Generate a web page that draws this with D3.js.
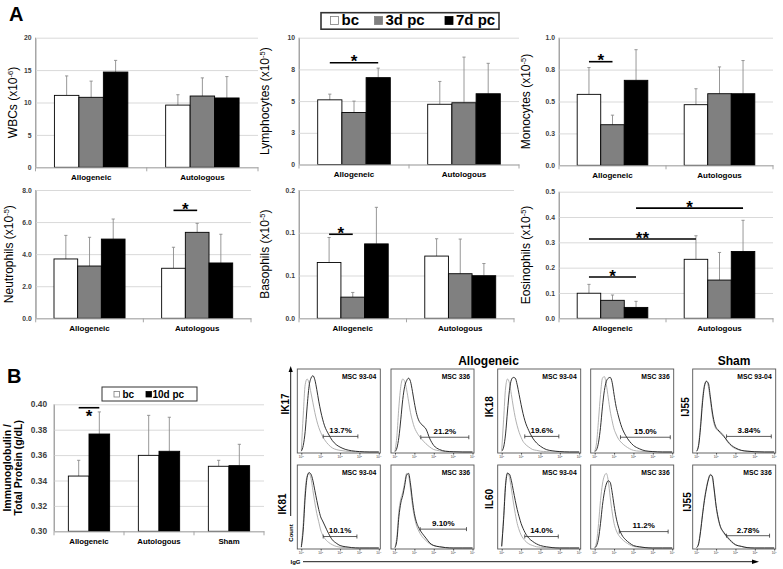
<!DOCTYPE html>
<html><head><meta charset="utf-8">
<script src="https://cdn.jsdelivr.net/npm/d3@7"></script>
<style>body{margin:0;background:#fff}svg{display:block;font-family:"Liberation Sans",Arial,sans-serif}</style>
</head><body><svg id="c" width="783" height="569"></svg>
<script>
// ---------------- DATA : panel A ----------------
const groupsA = ["Allogeneic", "Autologous"];
const seriesA = ["bc", "3d pc", "7d pc"];
const colorsA = ["#ffffff", "#808080", "#000000"];

const wbcMean = [[11.1, 10.8, 14.7], [9.6, 11.0, 10.7]];
const wbcSD = [[3.0, 2.5, 1.8], [1.6, 2.8, 3.3]];
const wbcTicks = [0, 5, 10, 15, 20];
const wbcTickLabels = ["0", "5", "10", "15", "20"];

const lymMean = [[5.1, 4.1, 6.85], [4.75, 4.87, 5.58]];
const lymSD = [[0.45, 0.9, 0.75], [1.8, 3.6, 2.4]];
const lymTicks = [0, 2.5, 5, 7.5, 10];
const lymTickLabels = ["0", "3", "5", "8", "10"];

const monoMean = [[0.556, 0.318, 0.666], [0.475, 0.561, 0.561]];
const monoSD = [[0.21, 0.075, 0.24], [0.125, 0.21, 0.26]];
const monoTicks = [0, 0.25, 0.5, 0.75, 1.0];
const monoTickLabels = ["0.0", "0.3", "0.5", "0.8", "1.0"];

const neuMean = [[3.70, 3.26, 4.94], [3.12, 5.36, 3.45]];
const neuSD = [[1.47, 1.79, 1.25], [1.31, 0.56, 1.79]];
const neuTicks = [0, 2, 4, 6, 8];
const neuTickLabels = ["0.0", "2.0", "4.0", "6.0", "8.0"];

const basMean = [[0.087, 0.033, 0.116], [0.097, 0.0695, 0.0664]];
const basSD = [[0.039, 0.0073, 0.057], [0.027, 0.054, 0.019]];
const basTicks = [0, 0.0667, 0.1333, 0.2];
const basTickLabels = ["0.0", "0.1", "0.1", "0.2"];

const eosMean = [[0.099, 0.071, 0.043], [0.233, 0.151, 0.264]];
const eosSD = [[0.035, 0.021, 0.024], [0.093, 0.109, 0.123]];
const eosTicks = [0, 0.1, 0.2, 0.3, 0.4, 0.5];
const eosTickLabels = ["0.0", "0.1", "0.2", "0.3", "0.4", "0.5"];

// significance brackets: [fromGroup, fromSeries, toGroup, toSeries, level, label]
const lymSig = [[0, 0, 0, 2, 8.03, "*"]];
const monoSig = [[0, 0, 0, 1, 0.812, "*"]];
const neuSig = [[1, 0, 1, 1, 6.73, "*"]];
const basSig = [[0, 0, 0, 1, 0.131, "*"]];
const eosSig = [[0, 0, 0, 2, 0.163, "*"], [0, 0, 1, 0, 0.313, "**"], [0, 2, 1, 2, 0.435, "*"]];

// ---------------- DATA : panel B ----------------
const groupsB = ["Allogeneic", "Autologous", "Sham"];
const seriesB = ["bc", "10d pc"];
const colorsB = ["#ffffff", "#000000"];
const igMean = [[0.3435, 0.3766], [0.3598, 0.3630], [0.3512, 0.3517]];
const igSD = [[0.0124, 0.0174], [0.0315, 0.0268], [0.0047, 0.0168]];
const igTicks = [0.30, 0.32, 0.34, 0.36, 0.38, 0.40];
const igTickLabels = ["0.30", "0.32", "0.34", "0.36", "0.38", "0.40"];
const igSig = [[0, 0, 0, 1, 0.3973, "*"]];

// ---------------- DATA : flow histograms ----------------
const flowLogPts = [0, 0.1, 0.2, 0.3, 0.4, 0.5, 0.6, 0.7, 0.8, 0.9, 1.0, 1.1, 1.2, 1.4, 1.6, 1.8, 2.0, 2.3, 2.6, 3.0, 3.5, 4.0];
const flowDecadeLabels = ["0", "1", "2", "3", "4"];
const flowRowLabels = [["IK17", "IK18", "IJ55"], ["IK81", "IL60", "IJ55"]];
const flowSamples = [["MSC 93-04", "MSC 336", "MSC 93-04", "MSC 336", "MSC 93-04"],
                     ["MSC 93-04", "MSC 336", "MSC 93-04", "MSC 336", "MSC 336"]];
const flowPercents = [["13.7%", "21.2%", "19.6%", "15.0%", "3.84%"],
                      ["10.1%", "9.10%", "14.0%", "11.2%", "2.78%"]];
const flowGateLog = [[[1.13, 2.92], [1.33, 3.81], [1.19, 2.95], [1.33, 3.9], [1.54, 3.85]],
                     [[1.13, 2.87], [1.30, 3.69], [1.19, 2.92], [1.27, 3.79], [1.54, 3.76]]];
const flowGateLevel = [[19, 18, 19, 18, 19], [14, 23, 14, 20, 15]];
const flowGray = [
  [[2, 45, 82, 89, 84, 72, 60, 48, 38, 30, 24, 19, 15, 9, 5, 3, 2, 1, 0.5, 0, 0, 0],
   [1, 20, 55, 80, 89, 86, 76, 62, 48, 38, 30, 25, 21, 15, 10, 6, 3, 1.5, 0.5, 0, 0, 0],
   [2, 40, 78, 89, 84, 70, 55, 42, 32, 24, 18, 13, 10, 6, 3, 2, 1, 0.5, 0, 0, 0, 0],
   [1, 12, 40, 70, 90, 92, 82, 66, 50, 38, 28, 22, 17, 11, 7, 4, 2, 1, 0.5, 0, 0, 0],
   [1, 10, 35, 65, 82, 87, 80, 64, 46, 34, 28, 26, 25, 20, 12, 7, 4, 2, 1, 0.3, 0, 0]],
  [[2, 30, 70, 88, 91, 85, 70, 55, 42, 32, 22, 16, 12, 7, 4, 2, 1, 0.5, 0, 0, 0, 0],
   [0.5, 15, 45, 60, 68, 80, 91, 88, 72, 52, 38, 28, 22, 14, 9, 5, 3, 1.5, 0.5, 0, 0, 0],
   [2, 40, 80, 92, 86, 72, 56, 42, 30, 22, 16, 12, 9, 5, 3, 1.5, 1, 0.3, 0, 0, 0, 0],
   [0.5, 8, 30, 58, 78, 88, 91, 82, 62, 44, 30, 22, 17, 11, 7, 4, 2, 1, 0.3, 0, 0, 0],
   [0.5, 6, 22, 42, 60, 74, 84, 90, 86, 70, 50, 36, 27, 18, 12, 7, 4, 2, 0.5, 0, 0, 0]]
];
const flowBlack = [
  [[1, 8, 25, 55, 80, 90, 93, 88, 76, 62, 50, 40, 32, 22, 14, 9, 6, 3, 1.5, 0.5, 0, 0],
   [0.5, 5, 18, 40, 64, 80, 87, 90, 86, 74, 60, 48, 40, 33, 28, 16, 8, 3, 1, 0.3, 0, 0],
   [1, 6, 22, 50, 75, 88, 91, 90, 82, 70, 58, 47, 38, 26, 17, 11, 7, 3, 1.5, 0.5, 0, 0],
   [0.5, 3, 12, 30, 55, 75, 86, 90, 91, 85, 70, 56, 46, 30, 20, 13, 8, 4, 1.5, 0.5, 0, 0],
   [1, 8, 30, 60, 80, 86, 84, 68, 50, 37, 30, 27, 24, 19, 13, 8, 5, 2, 1, 0.3, 0, 0]],
  [[1, 22, 62, 86, 92, 90, 82, 70, 58, 47, 38, 33, 28, 18, 10, 6, 3, 1.5, 0.5, 0, 0, 0],
   [0.5, 10, 38, 55, 64, 76, 89, 91, 78, 58, 42, 32, 26, 18, 12, 6, 3, 1.5, 0.5, 0, 0, 0],
   [2, 35, 76, 91, 90, 82, 70, 58, 47, 38, 30, 24, 19, 12, 8, 5, 3, 1.5, 0.5, 0, 0, 0],
   [0.3, 3, 12, 30, 52, 68, 78, 82, 80, 68, 52, 38, 28, 16, 10, 6, 3, 1.5, 0.5, 0, 0, 0],
   [0.5, 5, 20, 40, 58, 72, 83, 89, 88, 72, 52, 38, 28, 19, 13, 8, 4, 2, 0.5, 0, 0, 0]]
];

// ---------------- DRAWING ----------------
const svg = d3.select("#c");
const FONT = '"Liberation Sans", Arial, sans-serif';

function barChart(cfg) {
  const g = svg.append("g");
  const x = d3.scaleBand().domain(cfg.groups).range([cfg.x0, cfg.x1]).padding(0);
  const bw = x.bandwidth();
  const xs = d3.scaleBand().domain(cfg.series).range([bw * cfg.off, bw * (cfg.off + cfg.frac)]).padding(0);
  const y = d3.scaleLinear().domain([cfg.min, cfg.max]).range([cfg.yBot, cfg.yTop]);

  const ax = g.append("g").attr("transform", `translate(${cfg.x0},0)`)
    .call(d3.axisLeft(y).tickValues(cfg.ticks).tickFormat((d, i) => cfg.tickLabels[i])
      .tickSizeInner(-(cfg.x1 - cfg.x0)).tickSizeOuter(0).tickPadding(cfg.tickPad));
  ax.select(".domain").attr("stroke", "#a6a6a6");
  ax.selectAll(".tick line").attr("stroke", "#d9d9d9");
  ax.selectAll(".tick text").attr("fill", "#404040").attr("font-weight", "bold")
    .attr("font-size", cfg.tickFont).attr("font-family", FONT);
  g.append("line").attr("x1", cfg.x0).attr("x2", cfg.x0).attr("y1", cfg.yTop).attr("y2", cfg.yBot)
    .attr("stroke", "#a6a6a6");

  cfg.groups.forEach((gr, gi) => {
    cfg.series.forEach((s, si) => {
      const v = cfg.mean[gi][si], sd = cfg.sd[gi][si];
      const bx = x(gr) + xs(s), bwid = xs.bandwidth();
      const cx = bx + bwid / 2;
      g.append("line").attr("x1", cx).attr("x2", cx).attr("y1", y(v)).attr("y2", y(v + sd))
        .attr("stroke", "#8c8c8c").attr("stroke-width", 0.9);
      g.append("line").attr("x1", cx - 1.6).attr("x2", cx + 1.6).attr("y1", y(v + sd)).attr("y2", y(v + sd))
        .attr("stroke", "#8c8c8c").attr("stroke-width", 0.9);
      g.append("rect").attr("x", bx).attr("y", y(v)).attr("width", bwid).attr("height", y(cfg.min) - y(v))
        .attr("fill", cfg.colors[si]).attr("stroke", "#000").attr("stroke-width", 0.9);
    });
  });

  const bx = g.append("g").attr("transform", `translate(0,${cfg.yBot})`)
    .call(d3.axisBottom(x).tickSize(0).tickPadding(cfg.catPad));
  bx.select(".domain").attr("stroke", "#a6a6a6");
  bx.selectAll(".tick text").attr("font-weight", "bold").attr("font-size", cfg.catFont)
    .attr("fill", "#000").attr("font-family", FONT);
  cfg.groups.forEach((gr) => {
    const xx = x(gr) + bw;
    g.append("line").attr("x1", xx).attr("x2", xx).attr("y1", cfg.yBot).attr("y2", cfg.yBot + 4)
      .attr("stroke", "#a6a6a6");
  });
  g.append("line").attr("x1", cfg.x0).attr("x2", cfg.x0).attr("y1", cfg.yBot).attr("y2", cfg.yBot + 4)
    .attr("stroke", "#a6a6a6");

  (cfg.sig || []).forEach(sg => {
    const xa = x(cfg.groups[sg[0]]) + xs(cfg.series[sg[1]]) + xs.bandwidth() / 2;
    const xb = x(cfg.groups[sg[2]]) + xs(cfg.series[sg[3]]) + xs.bandwidth() / 2;
    const yy = y(sg[4]);
    g.append("line").attr("x1", xa).attr("x2", xb).attr("y1", yy).attr("y2", yy)
      .attr("stroke", "#000").attr("stroke-width", 1.6);
    g.append("text").attr("x", (xa + xb) / 2).attr("y", cfg.starBelow ? yy + 14 : yy + 4.5)
      .attr("text-anchor", "middle").attr("font-size", 17).attr("font-weight", "bold")
      .attr("font-family", FONT).text(sg[5]);
  });

  const t = g.append("text").attr("transform", `translate(${cfg.titleX},${(cfg.yTop + cfg.yBot) / 2}) rotate(-90)`)
    .attr("text-anchor", "middle").attr("font-size", cfg.titleFont).attr("font-family", FONT)
    .attr("font-weight", cfg.titleBold ? "bold" : "normal");
  cfg.title(t);
}

function sciTitle(name, exp) {
  return t => {
    t.append("tspan").text(name + " (x10");
    t.append("tspan").attr("font-size", 7.5).attr("dy", -4).text(exp);
    t.append("tspan").attr("dy", 4).text(")");
  };
}

const common = { groups: groupsA, series: seriesA, colors: colorsA, min: 0, off: 0.17, frac: 0.66,
  tickFont: 6.8, tickPad: 4, catFont: 8, catPad: 7, titleFont: 12 };

barChart({ ...common, x0: 35.5, x1: 258, yTop: 37.7, yBot: 167.3, max: 20, ticks: wbcTicks, tickLabels: wbcTickLabels,
  mean: wbcMean, sd: wbcSD, titleX: 16.5, title: sciTitle("WBCs", "-6") });
barChart({ ...common, x0: 299, x1: 519, yTop: 37.7, yBot: 164.5, max: 10, ticks: lymTicks, tickLabels: lymTickLabels,
  mean: lymMean, sd: lymSD, sig: lymSig, titleX: 269, title: sciTitle("Lymphocytes", "-5") });
barChart({ ...common, x0: 559, x1: 773, yTop: 37.7, yBot: 165.3, max: 1.0, ticks: monoTicks, tickLabels: monoTickLabels,
  mean: monoMean, sd: monoSD, sig: monoSig, titleX: 530, title: sciTitle("Monocytes", "-5") });
barChart({ ...common, x0: 35.7, x1: 251, yTop: 190, yBot: 318.3, max: 8, ticks: neuTicks, tickLabels: neuTickLabels,
  mean: neuMean, sd: neuSD, sig: neuSig, titleX: 12.5, title: sciTitle("Neutrophils", "-5") });
barChart({ ...common, x0: 299, x1: 514, yTop: 190, yBot: 318.3, max: 0.2, ticks: basTicks, tickLabels: basTickLabels,
  mean: basMean, sd: basSD, sig: basSig, titleX: 269, title: sciTitle("Basophils", "-5") });
barChart({ ...common, x0: 559, x1: 773, yTop: 191.7, yBot: 318.3, max: 0.5, ticks: eosTicks, tickLabels: eosTickLabels,
  mean: eosMean, sd: eosSD, sig: eosSig, titleX: 530, title: sciTitle("Eosinophils", "-5") });

barChart({ groups: groupsB, series: seriesB, colors: colorsB, min: 0.30, max: 0.40, off: 0.205, frac: 0.59,
  x0: 54, x1: 264, yTop: 404.3, yBot: 531.3, ticks: igTicks, tickLabels: igTickLabels, tickFont: 8.3, tickPad: 7,
  catFont: 7.8, catPad: 7, mean: igMean, sd: igSD, sig: igSig, starBelow: true, titleX: 11, titleFont: 10.5, titleBold: true,
  title: t => {
    t.append("tspan").attr("x", 0).attr("dy", 0).text("Immunoglobulin /");
    t.append("tspan").attr("x", 0).attr("dy", 11).text("Total Protein (g/dL)");
  } });

svg.append("text").attr("x", 9).attr("y", 20.5).attr("font-size", 20).attr("font-weight", "bold")
  .attr("font-family", FONT).text("A");
svg.append("text").attr("x", 7).attr("y", 383).attr("font-size", 20).attr("font-weight", "bold")
  .attr("font-family", FONT).text("B");

function legend(x, y, w, h, items, sq, fs, base, stroke) {
  const g = svg.append("g");
  g.append("rect").attr("x", x).attr("y", y).attr("width", w).attr("height", h)
    .attr("fill", "#fff").attr("stroke", "#333").attr("stroke-width", stroke);
  items.forEach(it => {
    g.append("rect").attr("x", it.sx).attr("y", base - sq - 0.5).attr("width", sq).attr("height", sq)
      .attr("fill", it.color).attr("stroke", it.color === "#ffffff" ? "#7f7f7f" : it.color).attr("stroke-width", 0.8);
    g.append("text").attr("x", it.tx).attr("y", base).attr("font-size", fs).attr("font-weight", "bold")
      .attr("font-family", FONT).text(it.label);
  });
}
legend(321, 12.7, 178, 16.5, seriesA.map((s, i) => ({ label: s, color: colorsA[i], sx: [330.5, 374.5, 445][i], tx: [341.5, 385.5, 456][i] })),
  8, 15, 25, 1.6);
legend(102, 387, 95, 14, seriesB.map((s, i) => ({ label: s, color: colorsB[i], sx: [114, 146][i], tx: [122.5, 152.5][i] })),
  5.5, 10, 397.5, 1);

// ---------------- flow cytometry grid ----------------
const colX = [297.3, 391, 497.7, 590.7, 692.7];
const rowY = [369, 465];
const boxW = 83, boxH = 84;
const lineGen = d3.line().curve(d3.curveMonotoneX);

rowY.forEach((ry, r) => {
  colX.forEach((cx, c) => {
    const g = svg.append("g");
    const xs = d3.scaleLinear().domain([0, 4]).range([cx + 4, cx + 81.5]);
    const ys = d3.scaleLinear().domain([0, 100]).range([ry + boxH - 1, ry + 1]);
    g.append("rect").attr("x", cx).attr("y", ry).attr("width", boxW).attr("height", boxH)
      .attr("fill", "#fff").attr("stroke", "#555").attr("stroke-width", 0.9);
    const pts = arr => flowLogPts.map((l, i) => [xs(l), ys(arr[i])]);
    g.append("path").attr("d", lineGen(pts(flowGray[r][c]))).attr("fill", "none")
      .attr("stroke", "#a8a8a8").attr("stroke-width", 0.9);
    g.append("path").attr("d", lineGen(pts(flowBlack[r][c]))).attr("fill", "none")
      .attr("stroke", "#1a1a1a").attr("stroke-width", 0.9);
    const ax = g.append("g").attr("transform", `translate(0,${ry + boxH})`)
      .call(d3.axisBottom(xs).tickValues([0, 1, 2, 3, 4]).tickSize(1.5).tickPadding(1).tickFormat(() => ""));
    ax.select(".domain").remove();
    ax.selectAll(".tick line").attr("stroke", "#444");
    [0, 1, 2, 3, 4].forEach((d, i) => {
      const tt = g.append("text").attr("x", xs(d)).attr("y", ry + boxH + 5).attr("text-anchor", "middle")
        .attr("font-size", 3.2).attr("fill", "#333").attr("font-family", FONT);
      tt.append("tspan").text("10");
      tt.append("tspan").attr("dy", -1.2).attr("font-size", 2.4).text(flowDecadeLabels[i]);
    });
    g.append("text").attr("x", cx + boxW - 4).attr("y", ry + 9.5).attr("text-anchor", "end")
      .attr("font-size", 6.8).attr("font-weight", "bold").attr("font-family", FONT).text(flowSamples[r][c]);
    const gl = flowGateLog[r][c], gy = ys(flowGateLevel[r][c]);
    g.append("line").attr("x1", xs(gl[0])).attr("x2", xs(gl[1])).attr("y1", gy).attr("y2", gy)
      .attr("stroke", "#333").attr("stroke-width", 0.8);
    gl.forEach(v => g.append("line").attr("x1", xs(v)).attr("x2", xs(v)).attr("y1", gy - 2).attr("y2", gy + 2)
      .attr("stroke", "#333").attr("stroke-width", 0.8));
    g.append("text").attr("x", (xs(gl[0]) + xs(gl[1])) / 2).attr("y", gy - 3.2).attr("text-anchor", "middle")
      .attr("font-size", 8).attr("font-weight", "bold").attr("font-family", FONT).text(flowPercents[r][c]);
  });
});

const rowLabelPos = [[[285, 404], [489, 406.7], [685.5, 407]], [[282.5, 504], [489, 499], [687, 502]]];
flowRowLabels.forEach((row, r) => row.forEach((lab, i) => {
  const p = rowLabelPos[r][i];
  svg.append("text").attr("transform", `translate(${p[0] + 3.5},${p[1]}) rotate(-90)`).attr("text-anchor", "middle")
    .attr("font-size", 10).attr("font-weight", "bold").attr("font-family", FONT).text(lab);
}));

svg.append("text").attr("x", 488.5).attr("y", 365).attr("text-anchor", "middle").attr("font-size", 12)
  .attr("font-weight", "bold").attr("font-family", FONT).text("Allogeneic");
svg.append("text").attr("x", 734).attr("y", 365).attr("text-anchor", "middle").attr("font-size", 12)
  .attr("font-weight", "bold").attr("font-family", FONT).text("Sham");

svg.append("line").attr("x1", 290.7).attr("x2", 290.7).attr("y1", 516).attr("y2", 371).attr("stroke", "#000").attr("stroke-width", 0.9);
svg.append("path").attr("d", "M290.7,366 L288.6,372 L292.8,372 Z").attr("fill", "#000");
svg.append("text").attr("transform", "translate(292.5,533) rotate(-90)").attr("text-anchor", "middle")
  .attr("font-size", 6).attr("font-weight", "bold").attr("font-family", FONT).text("Count");
svg.append("line").attr("x1", 303).attr("x2", 753).attr("y1", 561.7).attr("y2", 561.7).attr("stroke", "#000").attr("stroke-width", 0.9);
svg.append("path").attr("d", "M759,561.7 L752,559.5 L752,563.9 Z").attr("fill", "#000");
svg.append("text").attr("x", 290.5).attr("y", 564).attr("font-size", 6).attr("font-weight", "bold")
  .attr("font-family", FONT).text("IgG");
</script></body></html>
